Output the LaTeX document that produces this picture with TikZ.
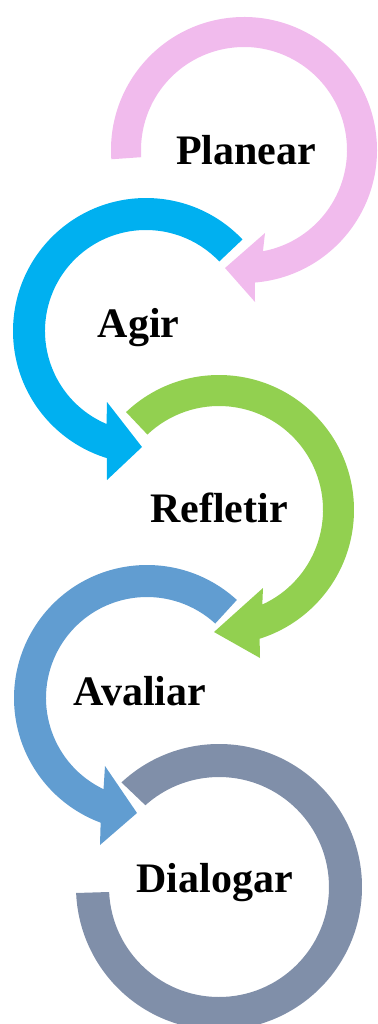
\documentclass[tikz,border=0pt]{standalone}
\usepackage{fontspec}
\setmainfont{Liberation Serif}
\usetikzlibrary{calc}
\definecolor{cpink}{RGB}{241,187,237}
\definecolor{cblue}{RGB}{0,176,240}
\definecolor{cgreen}{RGB}{146,208,80}
\definecolor{csteel}{RGB}{97,157,209}
\definecolor{cgray}{RGB}{128,143,169}
\begin{document}
\begin{tikzpicture}[x=1pt,y=-1pt,
  lab/.style={font=\fontsize{42}{42}\selectfont\bfseries, anchor=base, inner sep=0pt}]
\useasboundingbox (0,0) rectangle (377,1024);
\clip (0,0) rectangle (377,1024);
\coordinate (P) at (244,150);
\coordinate (B) at (146,331);
\coordinate (G) at (219,510);
\coordinate (S) at (147,698);
\coordinate (D) at (219,887);
% pink
\fill[cpink] ($(P)+(176:133)$) arc[start angle=176, end angle=445.3, radius=133]
  -- (255,302) -- (225,268) -- (265,233)
  -- ($(P)+(439.4:103)$) arc[start angle=439.4, end angle=176, radius=103] -- cycle;
% blue
\fill[cblue] ($(B)+(-43.5:133)$) arc[start angle=-43.5, end angle=-252.9, radius=133]
  -- (107,480) -- (142,447) -- (107,402)
  -- ($(B)+(-247:101)$) arc[start angle=-247, end angle=-43.5, radius=101] -- cycle;
% green
\fill[cgreen] ($(G)+(226.5:135)$) arc[start angle=226.5, end angle=432.5, radius=135]
  -- (260,658) -- (214,632) -- (263,588)
  -- ($(G)+(425.4:104)$) arc[start angle=425.4, end angle=226.5, radius=104] -- cycle;
% steel blue
\fill[csteel] ($(S)+(-47.5:133)$) arc[start angle=-47.5, end angle=-249.6, radius=133]
  -- (100,845) -- (137,813) -- (105,766)
  -- ($(S)+(-244.5:101)$) arc[start angle=-244.5, end angle=-47.5, radius=101] -- cycle;
% gray
\fill[cgray] ($(D)+(227:143)$) arc[start angle=227, end angle=537.6, radius=143]
  -- ($(D)+(537.4:110)$) arc[start angle=537.4, end angle=228, radius=110] -- cycle;
\node[lab] (planear) at (246,165) {Planear};
\node[lab] (agir) at (138.5,337) {Agir};
\node[lab] (refletir) at (219,522) {Refletir};
\node[lab] (avaliar) at (140,705) {Avaliar};
\node[lab] (dialogar) at (214.5,892) {Dialogar};
\end{tikzpicture}
\end{document}
